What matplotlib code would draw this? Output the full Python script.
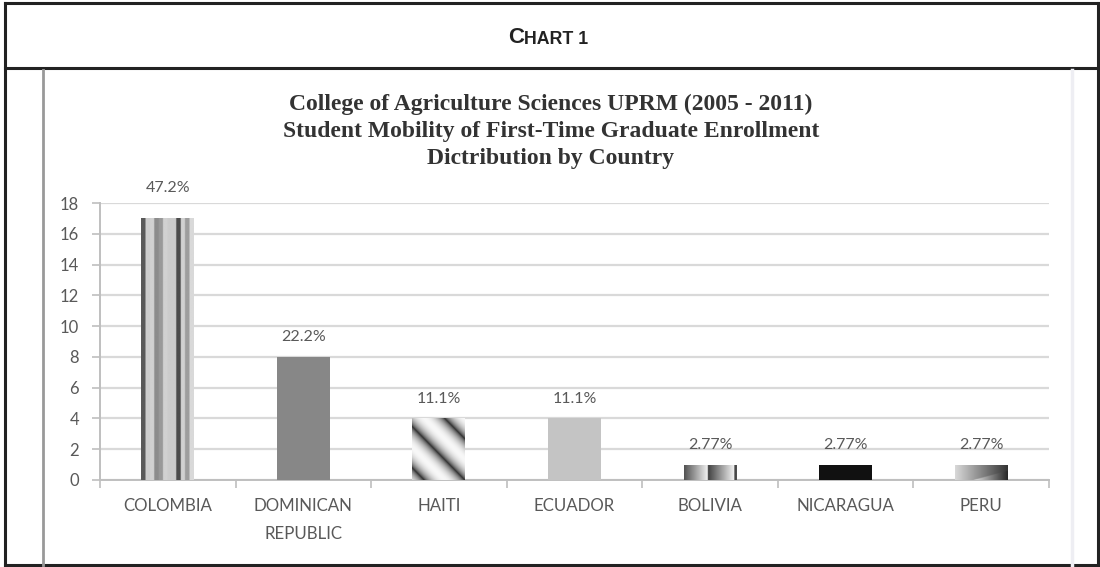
import matplotlib
matplotlib.use("Agg")
import matplotlib.pyplot as plt
from matplotlib.lines import Line2D
import numpy as np

countries = ["COLOMBIA", "DOMINICAN\nREPUBLIC", "HAITI", "ECUADOR", "BOLIVIA", "NICARAGUA", "PERU"]
students = [17, 8, 4, 4, 1, 1, 1]
shares = ["47.2%", "22.2%", "11.1%", "11.1%", "2.77%", "2.77%", "2.77%"]
yticks = [0, 2, 4, 6, 8, 10, 12, 14, 16, 18]

W, H = 1100, 567
fig = plt.figure(figsize=(W / 100, H / 100), dpi=100)
fig.patch.set_facecolor("white")

def px(x, y):
    # pixel coords (top-left origin) -> figure fraction
    return x / W, 1 - y / H

def fline(x0, y0, x1, y1, **kw):
    (a, b), (c, d) = px(x0, y0), px(x1, y1)
    fig.add_artist(Line2D([a, c], [b, d], transform=fig.transFigure, **kw))

# frame of the table
fline(5, 3, 1098, 3, color="#222222", lw=2.2)
fline(5, 565, 1098, 565, color="#222222", lw=2.2)
fline(5, 3, 5, 565, color="#222222", lw=2.2)
fline(1098, 3, 1098, 565, color="#222222", lw=2.2)
fline(5, 68, 1098, 68, color="#222222", lw=2.2)
fline(43, 70, 43, 565, color="#999999", lw=2.0)
fline(1072, 70, 1072, 565, color="#eeeef3", lw=2.5)

# title
tx, ty = px(551, 131)
fig.text(tx, ty, "College of Agriculture Sciences UPRM (2005 - 2011)\n"
         "Student Mobility of First-Time Graduate Enrollment\nDictribution by Country",
         ha="center", va="center", fontsize=17, fontweight="bold",
         family="Liberation Serif", color="#333333", linespacing=1.37)

l, b = px(100, 480)
r, t = px(1049, 203)
ax = fig.add_axes([l, b, r - l, t - b])

# header in small caps
hx, hy = px(508, 43)
t1 = fig.text(hx, hy, "C", fontsize=16, fontweight="bold", family="Liberation Sans",
              color="#222222", ha="left", va="baseline")
ax.annotate("HART 1", xy=(1, 0), xycoords=t1, fontsize=12.8, fontweight="bold",
            family="Liberation Sans", color="#222222", ha="left", va="bottom",
            annotation_clip=False)

x = np.arange(len(countries))
bw = 0.39
bars = ax.bar(x, students, width=bw, color="#888888", zorder=3)

# fill patterns for the textured bars
n = 200
u, v = np.meshgrid(np.linspace(0, 1, n), np.linspace(0, 1, n))

def stripes_vertical():
    lv = np.array([0.35, 0.8, 0.82, 0.55, 0.6, 0.82, 0.8, 0.8, 0.3, 0.82, 0.62, 0.85])
    idx = np.minimum((u * len(lv)).astype(int), len(lv) - 1)
    return lv[idx]

def stripes_diag():
    s = (u - (1 - v) * 1.15) * 1.3 + 0.2
    f = np.mod(s, 1.0)
    return 0.12 + 0.85 * np.sin(np.pi * f) ** 0.6

def grad_horiz():
    f = np.mod(u * 2.0 + 0.1, 1.0)
    return 0.25 + 0.7 * f

def grad_peru():
    top = 0.85 - 0.65 * u
    low = 0.95 - 0.8 * np.clip((u - 0.3) / 0.7, 0, 1)
    return np.where(v > (u - 0.35) * 0.9, top, low)

patterns = {0: stripes_vertical(), 2: stripes_diag(), 4: grad_horiz(), 6: grad_peru()}
solid = {1: "#878787", 3: "#c4c4c4", 5: "#111111"}

for i, bar in enumerate(bars):
    if i in patterns:
        bar.set_facecolor("none")
        x0 = bar.get_x()
        im = ax.imshow(patterns[i], extent=(x0, x0 + bw, 0, bar.get_height()),
                       cmap="gray", vmin=0, vmax=1, origin="lower",
                       aspect="auto", zorder=3, interpolation="bilinear")
        im.set_clip_path(bar)
    else:
        bar.set_facecolor(solid[i])

label_gap = [17, 9, 9, 9, 9, 9, 9]
for i, bar in enumerate(bars):
    ax.annotate(shares[i], (bar.get_x() + bw / 2, bar.get_height()),
                xytext=(0, label_gap[i]), textcoords="offset points", ha="center",
                va="bottom", fontsize=11.5, family="Lato", color="#595959",
                annotation_clip=False)

ax.set_xlim(-0.5, len(countries) - 0.5)
ax.set_ylim(0, 18)
ax.set_yticks(yticks)
ax.set_xticks(x)
ax.set_xticklabels(countries, fontsize=12.2, family="Lato", color="#595959", linespacing=1.95)
ax.set_xticks(np.arange(len(countries) + 1) - 0.5, minor=True)
ax.tick_params(axis="x", which="major", length=0, pad=13)
ax.tick_params(axis="x", which="minor", length=6, color="#bfbfbf", width=1.2)
ax.tick_params(axis="y", length=6, color="#bfbfbf", width=1.2, pad=9,
               labelsize=12, labelcolor="#595959")
for lab in ax.get_yticklabels():
    lab.set_family("Lato")
ax.grid(axis="y", color="#d9d9d9", lw=1.6, zorder=0)
ax.set_axisbelow(True)
for s in ["top", "right"]:
    ax.spines[s].set_visible(False)
for s in ["left", "bottom"]:
    ax.spines[s].set_color("#bfbfbf")
    ax.spines[s].set_linewidth(1.4)

fig.savefig("out.png", dpi=100)
